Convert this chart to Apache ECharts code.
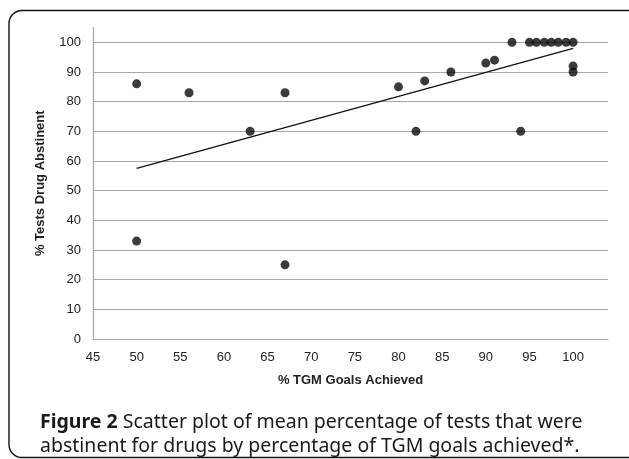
<!DOCTYPE html>
<html>
<head>
<meta charset="utf-8">
<script src="https://cdn.jsdelivr.net/npm/echarts@6/dist/echarts.min.js"></script>
<style>
html,body{margin:0;padding:0;background:#fff;}
#chart{width:629px;height:459px;}
</style>
</head>
<body>
<div id="chart"></div>
<script>
// % TGM goals achieved (x) and % tests drug abstinent (y)
const goalsAchieved = [50, 50, 56, 63, 67, 67, 80, 82, 83, 86, 90, 91, 93, 94, 95, 95.8, 96.7, 97.5, 98.3, 99.2, 100, 100, 100];
const testsAbstinent = [86, 33, 83, 70, 83, 25, 85, 70, 87, 90, 93, 94, 100, 70, 100, 100, 100, 100, 100, 100, 100, 92, 90];
// linear trend line end points
const trendX = [50, 100];
const trendY = [57.5, 98];
const xTicks = [45, 50, 55, 60, 65, 70, 75, 80, 85, 90, 95, 100];
const yTicks = [0, 10, 20, 30, 40, 50, 60, 70, 80, 90, 100];

const points = goalsAchieved.map((x, i) => [x, testsAbstinent[i]]);
const trend = trendX.map((x, i) => [x, trendY[i]]);

const gridColors = yTicks.map(() => '#a6a6a6').concat(['rgba(0,0,0,0)']);

const chart = echarts.init(document.getElementById('chart'), null, {renderer: 'canvas'});
chart.setOption({
  animation: false,
  backgroundColor: '#fff',
  grid: {left: 93, right: 21, top: 27.5, bottom: 120, containLabel: false},
  xAxis: {
    type: 'value', min: 45, max: 104, interval: 5,
    name: '% TGM Goals Achieved', nameLocation: 'middle', nameGap: 35,
    nameTextStyle: {fontFamily: 'Liberation Sans', fontWeight: 'bold', fontSize: 13, color: '#222'},
    axisLine: {show: true, lineStyle: {color: '#a6a6a6', width: 1.2}},
    axisTick: {show: false},
    splitLine: {show: false},
    axisLabel: {
      margin: 12, fontFamily: 'Liberation Sans', fontSize: 13, color: '#222',
      formatter: v => xTicks.includes(v) ? String(v) : ''
    }
  },
  yAxis: {
    type: 'value', min: 0, max: 105, interval: 10,
    name: '% Tests Drug Abstinent', nameLocation: 'middle', nameGap: 46,
    nameTextStyle: {fontFamily: 'Liberation Sans', fontWeight: 'bold', fontSize: 13, color: '#222'},
    axisLine: {show: true, lineStyle: {color: '#a6a6a6', width: 1.2}},
    axisTick: {show: false},
    splitLine: {show: true, lineStyle: {color: gridColors, width: 1.2}},
    axisLabel: {
      margin: 12, fontFamily: 'Liberation Sans', fontSize: 13, color: '#222',
      formatter: v => yTicks.includes(v) ? String(v) : ''
    }
  },
  title: {
    left: 35, top: 405,
    text: '{b|Figure 2} Scatter plot of mean percentage of tests that were\nabstinent for drugs by percentage of TGM goals achieved*.',
    textStyle: {
      fontFamily: 'Noto Sans', fontSize: 19.5, fontWeight: 'normal', color: '#1a1a1a', lineHeight: 24,
      rich: {b: {fontFamily: 'Noto Sans', fontSize: 19.5, fontWeight: 'bold', color: '#1a1a1a', lineHeight: 24}}
    }
  },
  graphic: [{
    type: 'rect', silent: true,
    shape: {x: 9, y: 10.5, width: 640, height: 447, r: 13},
    style: {fill: 'none', stroke: '#111', lineWidth: 1.4}
  }],
  series: [
    {
      type: 'line', data: trend, showSymbol: false, symbol: 'none',
      lineStyle: {color: '#111', width: 1.3}, z: 2
    },
    {
      type: 'scatter', data: points, symbol: 'circle', symbolSize: 9,
      itemStyle: {color: '#0a0a0a'}, z: 3
    }
  ]
});
</script>
</body>
</html>
